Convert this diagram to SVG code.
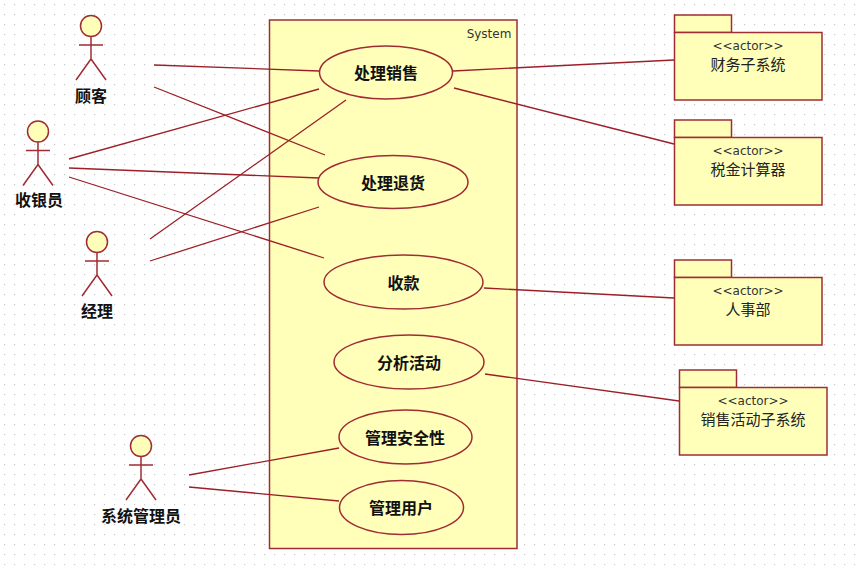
<svg xmlns="http://www.w3.org/2000/svg" width="857" height="565" viewBox="0 0 857 565">
<defs>
<pattern id="grid" width="10" height="10" patternUnits="userSpaceOnUse" x="0" y="0"><rect x="4" y="4" width="1.2" height="1.2" fill="#c8c8c8"/></pattern>
<g id="actor" class="ln"><circle cx="0" cy="0" r="10.5" class="fill"/><path d="M0,10.500V33M-12,19H12M0,33L-15,54M0,33L15,54"/></g>
</defs>
<style>
.ln{stroke:#a02c34;stroke-width:1.5;fill:none}
.fill{fill:#ffffb9;stroke:#a02c34;stroke-width:1.500}
.conn line{stroke:#9c1f28;stroke-width:1.300}
.b{font-family:"Noto Sans CJK SC","Liberation Sans",sans-serif;font-weight:700;font-size:16px;text-anchor:middle;fill:#111}
.r{font-family:"Noto Sans CJK SC","Liberation Sans",sans-serif;font-size:15px;text-anchor:middle;fill:#222}
.s{font-family:"DejaVu Sans",sans-serif;font-size:12px;text-anchor:middle;fill:#333}
</style>
<rect width="857" height="565" fill="#ffffff"/>
<rect width="857" height="565" fill="url(#grid)"/>
<g id="system"><rect x="269.500" y="20" width="247.500" height="528.500" class="fill"/><text x="489" y="38" class="s">System</text></g>
<g id="connectors" class="conn">
<line x1="154" y1="65" x2="319" y2="71"/>
<line x1="154" y1="87" x2="325" y2="155"/>
<line x1="69" y1="159" x2="319" y2="89"/>
<line x1="69" y1="168" x2="319" y2="178"/>
<line x1="69" y1="177" x2="324" y2="258"/>
<line x1="150" y1="239" x2="346" y2="100"/>
<line x1="150" y1="261" x2="319" y2="207"/>
<line x1="189" y1="475" x2="339" y2="448"/>
<line x1="189" y1="487" x2="339" y2="501"/>
<line x1="453" y1="71" x2="674" y2="60"/>
<line x1="454" y1="88" x2="674" y2="144"/>
<line x1="484" y1="288" x2="674" y2="298"/>
<line x1="485" y1="374" x2="679" y2="401"/>
</g>
<g id="actor-customer"><use href="#actor" x="91" y="26"/><text x="91" y="102" class="b">顾客</text></g>
<g id="actor-cashier"><use href="#actor" x="38" y="131.500"/><text x="39" y="206" class="b">收银员</text></g>
<g id="actor-manager"><use href="#actor" x="97" y="242"/><text x="97" y="317" class="b">经理</text></g>
<g id="actor-admin"><use href="#actor" x="141" y="446"/><text x="141" y="522" class="b">系统管理员</text></g>
<g id="uc-sale"><ellipse cx="386" cy="72.500" rx="66.500" ry="26.500" class="fill"/><text x="386" y="79" class="b">处理销售</text></g>
<g id="uc-return"><ellipse cx="393" cy="182" rx="75" ry="26.500" class="fill"/><text x="393" y="189" class="b">处理退货</text></g>
<g id="uc-pay"><ellipse cx="403.500" cy="282" rx="79.500" ry="27" class="fill"/><text x="403.500" y="289" class="b">收款</text></g>
<g id="uc-analysis"><ellipse cx="409" cy="362" rx="75" ry="27" class="fill"/><text x="409" y="369" class="b">分析活动</text></g>
<g id="uc-security"><ellipse cx="405.500" cy="437" rx="66.500" ry="27" class="fill"/><text x="405" y="444" class="b">管理安全性</text></g>
<g id="uc-users"><ellipse cx="401.500" cy="507.500" rx="62" ry="27" class="fill"/><text x="401" y="514" class="b">管理用户</text></g>
<g id="pkg-finance"><rect x="674.500" y="15" width="57" height="17.500" class="fill"/><rect x="674.500" y="32.500" width="147.500" height="67.500" class="fill"/><text x="748" y="49.500" class="s">&lt;&lt;actor&gt;&gt;</text><text x="748" y="70" class="r">财务子系统</text></g>
<g id="pkg-tax"><rect x="674.500" y="120" width="57" height="17.500" class="fill"/><rect x="674.500" y="137.500" width="147.500" height="67.500" class="fill"/><text x="748" y="154.500" class="s">&lt;&lt;actor&gt;&gt;</text><text x="748" y="175" class="r">税金计算器</text></g>
<g id="pkg-hr"><rect x="674.500" y="260" width="57" height="17.500" class="fill"/><rect x="674.500" y="277.500" width="147.500" height="67.500" class="fill"/><text x="748" y="294.500" class="s">&lt;&lt;actor&gt;&gt;</text><text x="748" y="315" class="r">人事部</text></g>
<g id="pkg-sales"><rect x="679.500" y="370" width="57" height="17.500" class="fill"/><rect x="679.500" y="387.500" width="147.500" height="67.500" class="fill"/><text x="753" y="404.500" class="s">&lt;&lt;actor&gt;&gt;</text><text x="753" y="425" class="r">销售活动子系统</text></g>
</svg>
